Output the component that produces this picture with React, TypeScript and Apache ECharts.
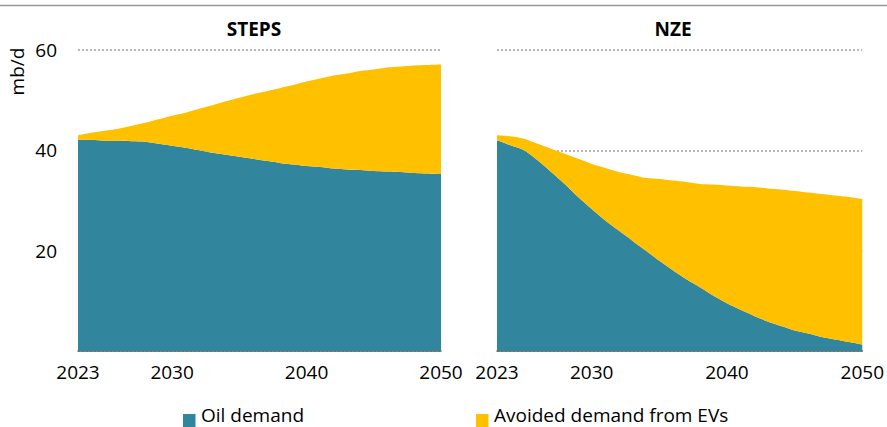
import React, { useEffect, useRef } from "react";
import * as echarts from "echarts";

const years = [
  "2023", "2024", "2025", "2026", "2027", "2028", "2029", "2030", "2031", "2032",
  "2033", "2034", "2035", "2036", "2037", "2038", "2039", "2040", "2041", "2042",
  "2043", "2044", "2045", "2046", "2047", "2048", "2049", "2050",
];
const shownYears = ["2023", "2030", "2040", "2050"];
const panelTitles = ["STEPS", "NZE"];
const seriesNames = ["Oil demand", "Avoided demand from EVs"];
const yTicks = [0, 20, 40, 60];

const stepsOil = [
  42.1, 42.1, 41.9, 41.9, 41.8, 41.7, 41.3, 40.9, 40.5, 40.0, 39.5, 39.1, 38.7, 38.3,
  37.9, 37.5, 37.2, 36.9, 36.7, 36.4, 36.2, 36.1, 35.9, 35.8, 35.7, 35.5, 35.4, 35.3,
];
const stepsAvoided = [
  0.9, 1.4, 2.0, 2.4, 3.1, 3.8, 4.9, 6.0, 7.0, 8.3, 9.5, 10.7, 11.8, 12.9,
  13.9, 14.9, 15.8, 16.8, 17.6, 18.5, 19.1, 19.7, 20.2, 20.7, 21.0, 21.4, 21.6, 21.8,
];
const nzeOil = [
  42.0, 41.0, 40.0, 38.0, 35.7, 33.3, 30.7, 28.3, 26.0, 24.0, 22.0, 20.0, 18.0, 16.1,
  14.3, 12.7, 11.0, 9.5, 8.2, 7.0, 5.9, 5.0, 4.1, 3.5, 2.8, 2.3, 1.8, 1.3,
];
const nzeAvoided = [
  1.0, 1.8, 2.3, 3.3, 4.6, 6.0, 7.6, 9.0, 10.5, 11.7, 13.1, 14.5, 16.3, 17.9,
  19.4, 20.6, 22.2, 23.5, 24.6, 25.7, 26.5, 27.2, 27.8, 28.1, 28.5, 28.7, 28.9, 29.0,
];

const TEAL = "#31859C";
const YELLOW = "#FFC000";
const FONT = "'Open Sans', 'Noto Sans', sans-serif";
const FS = 19;

export default function App() {
  const ref = useRef<HTMLDivElement>(null);

  useEffect(() => {
    if (!ref.current) return;
    const chart = echarts.init(ref.current, undefined, { renderer: "svg" });

    const grids = [
      { left: 78, right: 446, top: 50, bottom: 76 },
      { left: 497, right: 24, top: 50, bottom: 76 },
    ];

    const xAxes = grids.map((_, i) => ({
      type: "category",
      gridIndex: i,
      data: years,
      boundaryGap: false,
      axisLine: { show: true, lineStyle: { color: "#595959", width: 1.5 } },
      axisTick: { show: false },
      axisLabel: {
        interval: (_idx: number, val: string) => shownYears.includes(val),
        color: "#000",
        fontFamily: FONT,
        fontSize: FS,
        margin: 11,
      },
      splitLine: { show: false },
    }));

    const yAxes = grids.map((_, i) => ({
      type: "value",
      gridIndex: i,
      min: yTicks[0],
      max: yTicks[yTicks.length - 1],
      interval: 20,
      axisLine: { show: false },
      axisTick: { show: false },
      axisLabel: {
        show: i === 0,
        color: "#000",
        fontFamily: FONT,
        fontSize: FS,
        margin: 21,
        formatter: (v: number) => (v === 0 ? "" : String(v)),
      },
      splitLine: {
        show: true,
        lineStyle: { color: "#a0a0a0", width: 1.6, type: [2, 2] },
      },
    }));

    const mk = (name: string, data: number[], idx: number, color: string, stack: string) => ({
      name,
      type: "line",
      xAxisIndex: idx,
      yAxisIndex: idx,
      stack,
      data,
      smooth: 0.3,
      showSymbol: false,
      symbol: "none",
      lineStyle: { width: 0, color },
      itemStyle: { color },
      areaStyle: { color, opacity: 1 },
      emphasis: { disabled: true },
    });

    const legendItems = [
      { name: seriesNames[0], color: TEAL, x: 183 },
      { name: seriesNames[1], color: YELLOW, x: 476 },
    ];

    const legendGraphics = legendItems.flatMap((it) => [
      {
        type: "rect",
        shape: { x: it.x, y: 414, width: 12.5, height: 13 },
        style: { fill: it.color },
      },
      {
        type: "text",
        x: it.x + 18,
        y: 415,
        style: {
          text: it.name,
          font: `${FS}px ${FONT}`,
          fill: "#000",
          textAlign: "left",
          textVerticalAlign: "middle",
        },
      },
    ]);

    const option = {
      animation: false,
      grid: grids,
      xAxis: xAxes,
      yAxis: yAxes,
      series: [
        mk(seriesNames[0], stepsOil, 0, TEAL, "steps"),
        mk(seriesNames[1], stepsAvoided, 0, YELLOW, "steps"),
        mk(seriesNames[0], nzeOil, 1, TEAL, "nze"),
        mk(seriesNames[1], nzeAvoided, 1, YELLOW, "nze"),
      ],
      graphic: [
        {
          type: "line",
          shape: { x1: 0, y1: 5.5, x2: 887, y2: 5.5 },
          style: { stroke: "#999999", lineWidth: 1.5 },
        },
        {
          type: "text",
          x: 254,
          y: 29,
          style: {
            text: panelTitles[0],
            font: `bold ${FS}px ${FONT}`,
            fill: "#000",
            textAlign: "center",
            textVerticalAlign: "middle",
          },
        },
        {
          type: "text",
          x: 673,
          y: 29,
          style: {
            text: panelTitles[1],
            font: `bold ${FS}px ${FONT}`,
            fill: "#000",
            textAlign: "center",
            textVerticalAlign: "middle",
          },
        },
        {
          type: "text",
          x: 17,
          y: 71.5,
          rotation: Math.PI / 2,
          style: {
            text: "mb/d",
            font: `${FS}px ${FONT}`,
            fill: "#000",
            textAlign: "center",
            textVerticalAlign: "middle",
          },
        },
        ...legendGraphics,
      ],
    };

    chart.setOption(option as any);
    return () => chart.dispose();
  }, []);

  return (
    <div
      ref={ref}
      style={{ position: "absolute", left: 0, top: 0, width: 887, height: 427, background: "#fff" }}
    />
  );
}
